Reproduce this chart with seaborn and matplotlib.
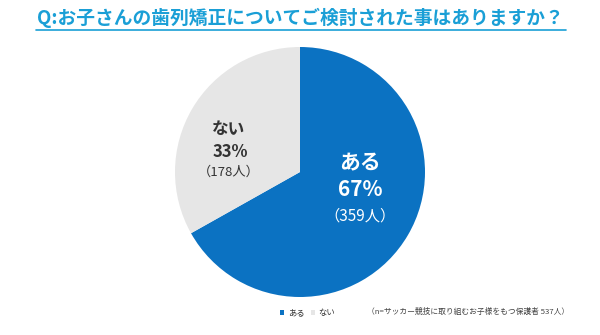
import matplotlib
matplotlib.use("Agg")
import matplotlib.pyplot as plt
import seaborn as sns
from matplotlib.lines import Line2D

sns.set_theme(style="white")
plt.rcParams['font.family'] = ['Noto Sans CJK JP', 'DejaVu Sans']

labels = ["ある", "ない"]
counts = [359, 178]
percents = [67, 33]
colors = ["#0b72c2", "#e6e6e6"]
title = "Q:お子さんの歯列矯正についてご検討された事はありますか？"
note = "（n=サッカー競技に取り組むお子様をもつ保護者 537人）"

fig = plt.figure(figsize=(6, 3.35), dpi=100)
fig.patch.set_facecolor("white")

W, H = 600, 335
cx, cy, r = 300, 172, 125
ax = fig.add_axes([(cx - r) / W, (H - cy - r) / H, 2 * r / W, 2 * r / H])
wedges, _ = ax.pie(counts, colors=colors, startangle=90, counterclock=False,
                   radius=1.0, wedgeprops=dict(linewidth=0))
ax.set_xlim(-1, 1)
ax.set_ylim(-1, 1)
ax.set_aspect("equal")
ax.axis("off")

def px2d(x, y):
    return ((x - cx) / r, (cy - y) / r)

pos = {
    0: [(360, 163), (360, 190), (360, 216)],
    1: [(229, 129), (230, 152), (229, 172)],
}
txtcol = {0: "white", 1: "#333333"}
sizes = {0: [15, 15, 11], 1: [12, 12, 9.5]}
for i in range(2):
    p = pos[i]
    texts = [labels[i], f"{percents[i]}%", f"（{counts[i]}人）"]
    for j, t in enumerate(texts):
        x, y = px2d(*p[j])
        ax.text(x, y, t, ha="center", va="center", color=txtcol[i],
                fontsize=sizes[i][j], fontweight="bold" if j < 2 else "normal")

# title
fig.text(0.5, 1 - 18 / H, title, ha="center", va="center", fontsize=13.5,
         fontweight="bold", color="#1a9fd6")
fig.add_artist(Line2D([36 / W, 566 / W], [1 - 30 / H, 1 - 30 / H],
                      transform=fig.transFigure, color="#1a9fd6", lw=1.2))

# legend
leg = fig.legend(wedges, labels, loc="center left", bbox_to_anchor=(276 / W, 1 - 313 / H),
                 ncol=2, frameon=False, fontsize=6, handlelength=0.5, handleheight=0.5,
                 handletextpad=0.4, columnspacing=0.8, borderpad=0, labelcolor="#333333")

fig.text(367 / W, 1 - 312 / H, note, ha="left", va="center", fontsize=5.6, color="#444444")

fig.savefig("out.png", dpi=100, facecolor="white")
